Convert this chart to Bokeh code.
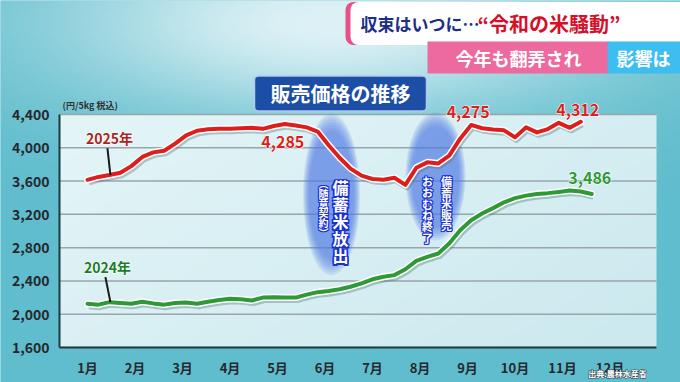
import numpy as np
from bokeh.plotting import figure
from bokeh.models import Label, FixedTicker, Range1d, NumeralTickFormatter
from bokeh.core.properties import value
from bokeh.embed import file_html
from bokeh.resources import INLINE

# ---------------- data ----------------
weeks_2025 = list(range(1, 47))
price_2025 = [3615, 3650, 3672, 3700, 3780, 3890, 3945, 3965, 4050, 4150,
              4205, 4222, 4230, 4230, 4235, 4240, 4228, 4262, 4285, 4268,
              4245, 4195, 4030, 3880, 3750, 3665, 3625, 3615, 3640, 3555,
              3760, 3825, 3812, 3905, 4110, 4275, 4235, 4220, 4210, 4125,
              4245, 4185, 4225, 4300, 4240, 4312]
weeks_2024 = list(range(1, 48))
price_2024 = [2125, 2115, 2145, 2135, 2125, 2150, 2130, 2115, 2135, 2140,
              2125, 2150, 2170, 2185, 2180, 2165, 2200, 2205, 2200, 2200,
              2235, 2265, 2280, 2300, 2330, 2370, 2420, 2450, 2470, 2540,
              2640, 2690, 2730, 2850, 3010, 3130, 3210, 3275, 3345, 3395,
              3425, 3445, 3455, 3470, 3486, 3475, 3445]
months = list(range(1, 13))
month_labels = ["1月", "2月", "3月", "4月", "5月", "6月", "7月", "8月", "9月", "10月", "11月", "12月"]
y_ticks = [1600, 2000, 2400, 2800, 3200, 3600, 4000, 4400]
series_names = ["2025年", "2024年"]

FONT = "Noto Sans CJK JP"
RED = "#dc1f1c"
GREEN = "#2e9a36"
NAVY = "#1b2f86"

def to_month(w):
    return 1 + (w - 1) * 12 / 52

x25 = [to_month(w) for w in weeks_2025]
x24 = [to_month(w) for w in weeks_2024]

# ---------------- geometry ----------------
W, H = 680, 382
ML, MR, MT, MB = 59, 24, 114, 35          # plot-area margins inside the figure
X0, X1 = 0.4105, 12.979                   # plot-area x extent (months)
Y0, Y1 = y_ticks[0], y_ticks[-1]
PXM = (W - ML - MR) / (X1 - X0)           # px per month
PXV = (H - MT - MB) / (Y1 - Y0)           # px per yen
XS, XE = X0 - ML / PXM, X1 + MR / PXM
YS, YE = Y0 - MB / PXV, Y1 + MT / PXV

def P(X, Y):
    """canvas pixel -> data coordinates"""
    return X0 + (X - ML) / PXM, Y0 + (H - MB - Y) / PXV

p = figure(width=W, height=H, output_backend="svg", toolbar_location=None,
           x_range=Range1d(XS, XE), y_range=Range1d(YS, YE), min_border=0)
p.background_fill_color = "#62bece"
p.border_fill_color = "#62bece"
p.outline_line_color = None
p.xgrid.visible = False
p.ygrid.visible = False

def rgba(r, g, b):
    img = np.empty(r.shape, dtype=np.uint32)
    v = img.view(dtype=np.uint8).reshape(r.shape + (4,))
    v[..., 0] = np.clip(r, 0, 255)
    v[..., 1] = np.clip(g, 0, 255)
    v[..., 2] = np.clip(b, 0, 255)
    v[..., 3] = 255
    return img

# soft backdrop: teal with a light sweep at the top
gx, gy = np.meshgrid(np.linspace(0, W, 170), np.linspace(H, 0, 96))
wt = np.exp(-((gx - 330) / 280) ** 2 - ((gy - 20) / 95) ** 2)
base = np.array([96, 189, 205.0])
hi = np.array([222, 242, 246.0])
p.image_rgba(image=[rgba(*[base[i] + (hi[i] - base[i]) * wt for i in range(3)])],
             x=XS, y=YS, dw=XE - XS, dh=YE - YS)

# plot area: pale cyan, slightly deeper towards lower right
px_, py_ = np.meshgrid(np.linspace(0, 1, 120), np.linspace(0, 1, 50))
t = 0.6 * px_ + 0.4 * (1 - py_)
c0 = np.array([228, 245, 247.0])
c1 = np.array([203, 233, 239.0])
p.image_rgba(image=[rgba(*[c0[i] + (c1[i] - c0[i]) * t for i in range(3)])],
             x=X0, y=Y0, dw=X1 - X0, dh=Y1 - Y0)

p.segment(x0=[X0] * len(y_ticks), x1=[X1] * len(y_ticks), y0=y_ticks, y1=y_ticks,
          line_color="#98a6aa", line_width=1.5)

# axes drawn at fixed locations inside the canvas
p.xaxis.fixed_location = Y0
p.yaxis.fixed_location = X0
p.xaxis.bounds = (X0, X1)
p.yaxis.bounds = (Y0, Y1)
p.xaxis.ticker = FixedTicker(ticks=months)
p.xaxis.major_label_overrides = {m: l for m, l in zip(months, month_labels)}
p.yaxis.ticker = FixedTicker(ticks=y_ticks)
p.yaxis.formatter = NumeralTickFormatter(format="0,0")
for ax, fs in ((p.xaxis[0], "13px"), (p.yaxis[0], "14px")):
    ax.major_label_text_font = FONT
    ax.major_label_text_font_style = "bold"
    ax.major_label_text_font_size = fs
    ax.major_label_text_color = "#26282e"
    ax.major_tick_line_color = None
    ax.minor_tick_line_color = None
    ax.axis_line_color = "#1d3a44"
    ax.axis_line_width = 2
    ax.major_label_standoff = 4

# highlighted periods (soft blue ellipses)
for (cx, cy), ew, eh in [(P(331, 194), 57, 162), (P(435, 176), 60, 128)]:
    for k in range(7):
        s = 1.0 - k * 0.035
        p.ellipse(x=[cx], y=[cy], width=ew * s / PXM, height=eh * s / PXV,
                  fill_color="#4f76e2", fill_alpha=0.15, line_color=None)

# lines with shadow + white halo
for xs, ys, col in [(x24, price_2024, GREEN), (x25, price_2025, RED)]:
    p.line([x + 1.5 / PXM for x in xs], [y - 2.5 / PXV for y in ys],
           line_color="#4a6a70", line_alpha=0.35, line_width=6, line_join="round")
    p.line(xs, ys, line_color="white", line_width=7, line_join="round", line_cap="round")
    p.line(xs, ys, line_color=col, line_width=4, line_join="round", line_cap="round")

# vertical texts in ellipses (white with blue border), one character per row
vt = [
    (340, 186.5, 17.0, "備蓄米放出", "16px", 1.5),
    (323, 183.0, 9.8, "︵随意契約︶", "10px", 1.0),
    (446, 180.5, 11.0, "備蓄米販売", "11px", 1.0),
    (427, 180.5, 11.3, "おおむね終了", "11px", 1.0),
]
for X, Y, gap, t, fs, o in vt:
    pts = [P(X, Y + i * gap) for i in range(len(t))]
    xs = [q[0] for q in pts]
    ys = [q[1] for q in pts]
    for ox, oy in [(-o, 0), (o, 0), (0, -o), (0, o), (-o, -o), (o, o), (-o, o), (o, -o)]:
        p.text(x=xs, y=ys, text=list(t), text_font=value(FONT), text_font_style="bold",
               text_font_size=fs, text_color="#1a30d0", x_offset=ox, y_offset=oy,
               text_align="center", text_baseline="middle")
    p.text(x=xs, y=ys, text=list(t), text_font=value(FONT), text_font_style="bold",
           text_font_size=fs, text_color="white",
           text_align="center", text_baseline="middle")

def lab(x, y, text, color, size, halo=None, align="center", bold=True, **kw):
    layers = [(halo, halo), (color, None)] if halo else [(color, None)]
    for c, o in layers:
        p.add_layout(Label(x=x, y=y, text=text, text_font=FONT,
                           text_font_style="bold" if bold else "normal",
                           text_font_size=size, text_color=c, text_outline_color=o,
                           text_align=align, text_baseline="middle", **kw))

# value callouts (positions derived from data points)
i_first_peak = max(range(25), key=lambda i: price_2025[i])
i_second_peak = max(range(30, 40), key=lambda i: price_2025[i])
i_last = len(price_2025) - 1
i_peak24 = max(range(len(price_2024)), key=lambda i: price_2024[i])
for xs, ys, i, dx, dy, col in [
    (x25, price_2025, i_first_peak, -2, -18, RED),
    (x25, price_2025, i_second_peak, -3, 12.5, RED),
    (x25, price_2025, i_last, -3, 12, RED),
    (x24, price_2024, i_peak24, 20, 13, GREEN),
]:
    lab(xs[i] + dx / PXM, ys[i] + dy / PXV, f"{ys[i]:,}", col, "16px", halo="white")

# series name labels with leader lines
for xs, ys, name, col, dx0, dy0 in [
    (x25, price_2025, series_names[0], "#a8261e", -3, 27),
    (x24, price_2024, series_names[1], "#1f7a2a", -5, 25),
]:
    x1, y1 = xs[2] + 1 / PXM, ys[2]
    x0, y0 = x1 + dx0 / PXM, y1 + dy0 / PXV
    p.segment(x0=[x0], y0=[y0], x1=[x1], y1=[y1], line_color="#1a1a1a", line_width=2)
    lab(x0 + 2 / PXM, y0 + 10 / PXV, name, col, "14px", halo="white")

# unit label and source
lab(*P(62, 105), "(円/5kg 税込)", "#333333", "9px", align="left")
lab(*P(617, 373), "出典:農林水産省", "white", "8px", halo="#33404a")

# chart title box
lab(*P(340, 93), "販売価格の推移", "white", "20px",
    background_fill_color="#1c4ea6", border_line_color="#b0c8ee", border_line_width=1.5,
    padding=dict(left=16, right=16, top=3, bottom=3), border_radius=4)

# header banners (box-left anchored; padding insets the text)
lab(*P(345, 23), "収束はいつに…", "#e8508c", "17px", align="left",
    background_fill_color="#e8508c", padding=dict(left=10, right=220, top=9, bottom=9),
    border_radius=8)
lab(*P(350, 23), "収束はいつに…", NAVY, "17px", align="left",
    background_fill_color="white", padding=dict(left=10, right=220, top=9, bottom=9),
    border_radius=8)
lab(*P(477, 23), "“令和の米騒動”", "#d5102a", "20px", align="left")
lab(*P(518, 57), "今年も翻弄され", "white", "18px",
    background_fill_color="#ec6a9e", padding=dict(left=28, right=28, top=3, bottom=3))
lab(*P(607, 57), "影響は", "white", "18px", align="left",
    background_fill_color="#3dbdf0", padding=dict(left=9, right=20, top=3, bottom=3))

open("out.html", "w").write(file_html(p, INLINE))
